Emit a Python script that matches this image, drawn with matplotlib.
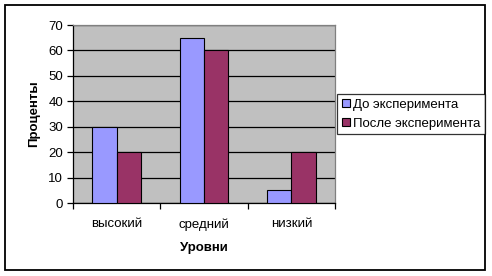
import matplotlib.pyplot as plt
import numpy as np
from matplotlib.patches import Rectangle

plt.rcParams['font.family'] = ['Liberation Sans', 'DejaVu Sans']

categories = ["высокий", "средний", "низкий"]
before = [30, 65, 5]
after = [20, 60, 20]
series_names = ["До эксперимента", "После эксперимента"]

W, H = 492, 276
fig = plt.figure(figsize=(W / 100, H / 100), dpi=100)
fig.patch.set_facecolor("white")

# outer chart border
fig.add_artist(Rectangle((5 / W, 1 - 270 / H), 480 / W, 265 / H,
                         transform=fig.transFigure, fill=False,
                         edgecolor="black", lw=1.3))

ax = fig.add_axes([73 / W, 1 - 203 / H, (335 - 73) / W, (203 - 25) / H])
ax.set_facecolor("#C0C0C0")

x = np.arange(len(categories))
bw = 0.28
b1 = ax.bar(x - bw / 2, before, bw, color="#9999FF", edgecolor="black", lw=0.8,
            label=series_names[0], zorder=3)
b2 = ax.bar(x + bw / 2, after, bw, color="#993366", edgecolor="black", lw=0.8,
            label=series_names[1], zorder=3)

ax.set_xlim(-0.5, len(categories) - 0.5)
ax.set_ylim(0, 70)
ax.set_yticks(range(0, 71, 10))
ax.yaxis.grid(True, color="black", lw=0.9, zorder=1)
ax.set_axisbelow(True)

fs = 9.5
ax.set_xticks(np.arange(-0.5, len(categories), 1.0), minor=False)
ax.set_xticklabels([])
ax.set_xticks(x, minor=True)
ax.set_xticklabels(categories, minor=True, fontsize=fs)
ax.tick_params(axis="x", which="minor", length=0, pad=11)
ax.tick_params(axis="x", which="major", length=4, direction="out", width=0.9)
ax.tick_params(axis="y", length=4, direction="out", width=0.9, labelsize=fs, pad=3)

for side in ["top", "right"]:
    ax.spines[side].set_color("#808080")
    ax.spines[side].set_linewidth(0.9)
ax.spines["left"].set_linewidth(0.9)
ax.spines["bottom"].set_linewidth(0.9)

ax.set_ylabel("Проценты", fontsize=fs, fontweight="bold", labelpad=6)
ax.set_xlabel("Уровни", fontsize=fs, fontweight="bold", labelpad=8)

leg = fig.legend(handles=[b1, b2], labels=series_names,
                 loc="upper left", bbox_to_anchor=(337 / W, 1 - 94 / H),
                 fontsize=fs, frameon=True, fancybox=False,
                 handlelength=0.6, handleheight=0.6, handletextpad=0.25,
                 borderpad=0.35, labelspacing=0.55, borderaxespad=0)
leg.get_frame().set_edgecolor("black")
leg.get_frame().set_linewidth(0.9)

fig.savefig("out.png", dpi=100)
